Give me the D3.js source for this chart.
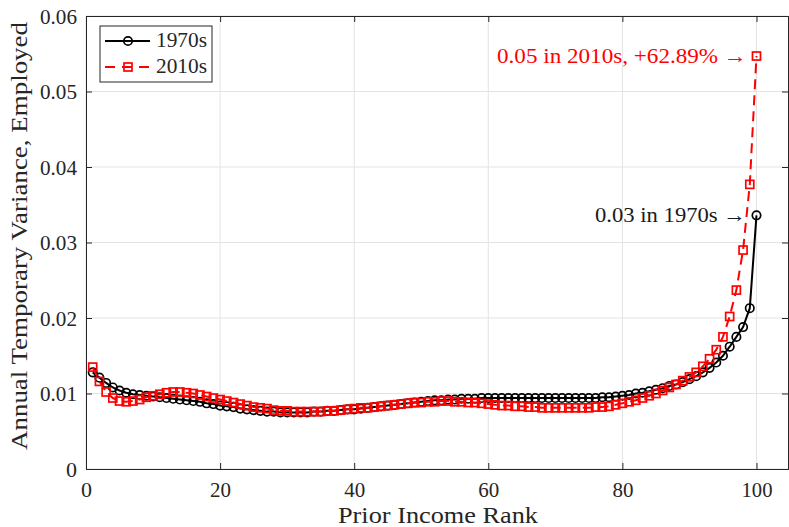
<!DOCTYPE html>
<html>
<head>
<meta charset="utf-8">
<script src="https://cdn.jsdelivr.net/npm/d3@7"></script>
<style>
  html, body { margin: 0; padding: 0; background: #fff; }
  svg { display: block; font-family: "Liberation Serif", "Times New Roman", "DejaVu Serif", serif; }
  svg text { font-family: "Liberation Serif", "Times New Roman", "DejaVu Serif", serif; }
</style>
</head>
<body>
<svg id="chart" width="789" height="527"></svg>
<script>
// ---- data ----
const ranks = d3.range(1, 101);
const series1970s = [
  0.0128, 0.0121, 0.0114, 0.0108, 0.0104, 0.0101, 0.0099, 0.0098, 0.0097, 0.0096,
  0.0095, 0.0094, 0.0093, 0.0092, 0.0091, 0.0090, 0.0089, 0.0087, 0.0086, 0.0084,
  0.0083, 0.0082, 0.0080, 0.0079, 0.0078, 0.0077, 0.0076, 0.0076, 0.0075, 0.0075,
  0.0075, 0.0075, 0.0075, 0.0076, 0.0076, 0.0077, 0.0077, 0.0078, 0.0079, 0.0079,
  0.0080, 0.0081, 0.0082, 0.0083, 0.0084, 0.0085, 0.0086, 0.0087, 0.0088, 0.0089,
  0.0090, 0.0091, 0.0091, 0.0092, 0.0092, 0.0093, 0.0093, 0.0093, 0.0094, 0.0094,
  0.0094, 0.0094, 0.0094, 0.0094, 0.0094, 0.0094, 0.0094, 0.0094, 0.0094, 0.0094,
  0.0094, 0.0094, 0.0094, 0.0094, 0.0094, 0.0094, 0.0095, 0.0095, 0.0096, 0.0097,
  0.0098, 0.0100, 0.0101, 0.0103, 0.0105, 0.0107, 0.0110, 0.0112, 0.0115, 0.0119,
  0.0123, 0.0128, 0.0134, 0.0141, 0.0150, 0.0162, 0.0175, 0.0188, 0.0213, 0.0336
];
const series2010s = [
  0.0135, 0.0116, 0.0102, 0.0094, 0.0090, 0.0089, 0.0090, 0.0092, 0.0095, 0.0097,
  0.0099, 0.0101, 0.0102, 0.0102, 0.0101, 0.0100, 0.0098, 0.0096, 0.0094, 0.0092,
  0.0090, 0.0088, 0.0086, 0.0084, 0.0082, 0.0081, 0.0080, 0.0078, 0.0077, 0.0077,
  0.0076, 0.0076, 0.0076, 0.0076, 0.0076, 0.0077, 0.0077, 0.0078, 0.0079, 0.0080,
  0.0081, 0.0081, 0.0082, 0.0083, 0.0084, 0.0085, 0.0086, 0.0087, 0.0088, 0.0088,
  0.0089, 0.0089, 0.0090, 0.0090, 0.0089, 0.0089, 0.0088, 0.0088, 0.0087, 0.0086,
  0.0085, 0.0084, 0.0084, 0.0083, 0.0083, 0.0082, 0.0082, 0.0081, 0.0081, 0.0081,
  0.0081, 0.0081, 0.0081, 0.0081, 0.0081, 0.0082, 0.0082, 0.0083, 0.0085, 0.0087,
  0.0089, 0.0091, 0.0094, 0.0097, 0.0100, 0.0104, 0.0108, 0.0112, 0.0117, 0.0122,
  0.0128, 0.0136, 0.0146, 0.0158, 0.0175, 0.0202, 0.0237, 0.0290, 0.0377, 0.0547
];
const seriesNames = ["1970s", "2010s"];
const xTicks = [0, 20, 40, 60, 80, 100];
const yTicks = [0, 0.01, 0.02, 0.03, 0.04, 0.05, 0.06];
const annot1970s = "0.03 in 1970s \u2192";
const annot2010s = "0.05 in 2010s, +62.89% \u2192";
const xTitle = "Prior Income Rank";
const yTitle = "Annual Temporary Variance, Employed";

// ---- layout ----
const svg = d3.select("#chart");
const L = 86, R = 788, T = 16, B = 469;
const x = d3.scaleLinear().domain([0, 104.7]).range([L, R]);
const y = d3.scaleLinear().domain([0, 0.06]).range([B, T]);
const axisColor = "#262626";
const fontFam = "'Liberation Serif', 'Times New Roman', 'DejaVu Serif', serif";
const fs = 22;

// grid
const grid = svg.append("g");
grid.selectAll(".gx").data(xTicks).join("line")
  .attr("x1", d => x(d)).attr("x2", d => x(d)).attr("y1", T).attr("y2", B)
  .attr("stroke", "#e3e3e3").attr("stroke-width", 1);
grid.selectAll(".gy").data(yTicks).join("line")
  .attr("x1", L).attr("x2", R).attr("y1", d => y(d)).attr("y2", d => y(d))
  .attr("stroke", "#e3e3e3").attr("stroke-width", 1);

// axes
const tickLen = 6;
const xAxis = d3.axisBottom(x).tickValues(xTicks).tickSize(-tickLen).tickPadding(12).tickFormat(d3.format("d"));
const yAxis = d3.axisLeft(y).tickValues(yTicks).tickSize(-tickLen).tickPadding(9)
  .tickFormat(d => d === 0 ? "0" : d3.format(".2f")(d));
const gx = svg.append("g").attr("transform", `translate(0,${B})`).call(xAxis);
const gy = svg.append("g").attr("transform", `translate(${L},0)`).call(yAxis);
const gxTop = svg.append("g").attr("transform", `translate(0,${T})`).call(d3.axisTop(x).tickValues(xTicks).tickSize(-tickLen).tickFormat(""));
const gyRight = svg.append("g").attr("transform", `translate(${R},0)`).call(d3.axisRight(y).tickValues(yTicks).tickSize(-tickLen).tickFormat(""));
[gx, gy, gxTop, gyRight].forEach(g => {
  g.attr("font-family", fontFam).attr("font-size", fs);
  g.select(".domain").attr("stroke", axisColor).attr("stroke-width", 1);
  g.selectAll(".tick line").attr("stroke", axisColor).attr("stroke-width", 1);
  g.selectAll(".tick text").attr("fill", axisColor)
    .style("font-family", fontFam).style("font-size", fs + "px");
});
gx.selectAll(".tick text").attr("dy", "0.71em")
  .each(function(d) {
    const s = String(d);
    if (s.length > 1) d3.select(this).attr("textLength", s.length === 2 ? 21 : 31).attr("lengthAdjust", "spacingAndGlyphs");
  });
gy.selectAll(".tick text")
  .each(function(d) {
    if (d !== 0) d3.select(this).attr("textLength", 37).attr("lengthAdjust", "spacingAndGlyphs");
  });

// titles
svg.append("text").attr("x", 338).attr("y", 523)
  .attr("fill", axisColor).attr("textLength", 200).attr("lengthAdjust", "spacingAndGlyphs")
  .style("font-family", fontFam).style("font-size", "23px").text(xTitle);
svg.append("text").attr("transform", `translate(27,450) rotate(-90)`)
  .attr("fill", axisColor).attr("textLength", 428).attr("lengthAdjust", "spacingAndGlyphs")
  .style("font-family", fontFam).style("font-size", "23px").text(yTitle);

// lines
const data70 = ranks.map((r, i) => [r, series1970s[i]]);
const data10 = ranks.map((r, i) => [r, series2010s[i]]);
const line = d3.line().x(d => x(d[0])).y(d => y(d[1]));

const plot = svg.append("g");
plot.append("path").datum(data70).attr("d", line)
  .attr("fill", "none").attr("stroke", "#000").attr("stroke-width", 2);
plot.selectAll(".c70").data(data70).join("circle")
  .attr("cx", d => x(d[0])).attr("cy", d => y(d[1])).attr("r", 4.2)
  .attr("fill", "none").attr("stroke", "#000").attr("stroke-width", 1.7);

plot.append("path").datum(data10).attr("d", line)
  .attr("fill", "none").attr("stroke", "#ff0000").attr("stroke-width", 2)
  .attr("stroke-dasharray", "10,6");
const sq = 8;
plot.selectAll(".s10").data(data10).join("rect")
  .attr("x", d => x(d[0]) - sq / 2).attr("y", d => y(d[1]) - sq / 2)
  .attr("width", sq).attr("height", sq)
  .attr("fill", "none").attr("stroke", "#ff0000").attr("stroke-width", 1.7);

// annotations
svg.append("text").attr("x", 497).attr("y", 63)
  .attr("fill", "#ff0000").attr("textLength", 250).attr("lengthAdjust", "spacingAndGlyphs")
  .style("font-family", fontFam).style("font-size", fs + "px").text(annot2010s);
svg.append("text").attr("x", 595).attr("y", 222)
  .attr("fill", "#1a1a1a").attr("textLength", 151).attr("lengthAdjust", "spacingAndGlyphs")
  .style("font-family", fontFam).style("font-size", fs + "px").text(annot1970s);

// legend
const lg = svg.append("g");
lg.append("rect").attr("x", 100).attr("y", 26).attr("width", 112).attr("height", 56)
  .attr("fill", "#fff").attr("stroke", axisColor).attr("stroke-width", 1);
const legendRows = [
  { name: seriesNames[0], color: "#000", dash: null, marker: "circle", yy: 41 },
  { name: seriesNames[1], color: "#ff0000", dash: "10,7", marker: "square", yy: 67 }
];
legendRows.forEach(rw => {
  lg.append("line").attr("x1", 105).attr("x2", 150).attr("y1", rw.yy).attr("y2", rw.yy)
    .attr("stroke", rw.color).attr("stroke-width", 2)
    .attr("stroke-dasharray", rw.dash);
  if (rw.marker === "circle") {
    lg.append("circle").attr("cx", 128).attr("cy", rw.yy).attr("r", 4.2)
      .attr("fill", "none").attr("stroke", rw.color).attr("stroke-width", 1.7);
  } else {
    lg.append("rect").attr("x", 128 - sq / 2).attr("y", rw.yy - sq / 2).attr("width", sq).attr("height", sq)
      .attr("fill", "none").attr("stroke", rw.color).attr("stroke-width", 1.7);
  }
  lg.append("text").attr("x", 156).attr("y", rw.yy + 6).attr("fill", axisColor)
    .attr("textLength", 51).attr("lengthAdjust", "spacingAndGlyphs")
    .style("font-family", fontFam).style("font-size", fs + "px").text(rw.name);
});
</script>
</body>
</html>
